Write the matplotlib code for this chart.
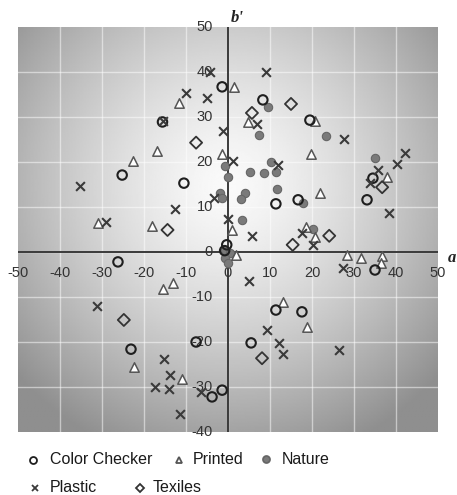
import numpy as np
import matplotlib.pyplot as plt
from matplotlib.transforms import offset_copy

# a'b' chromaticity of the sample sets
checker_a = [-1.4, 8.3, 19.5, -25.2, -10.5, 11.4, 16.7, 34.5, 33.1, 35.0, -26.2,
             -23.1, -7.6, 11.4, 17.6, 5.5, -1.4, -3.8, -15.6, -0.3, -0.8]
checker_b = [36.7, 33.8, 29.3, 17.1, 15.3, 10.7, 11.6, 16.4, 11.6, -4.0, -2.2,
             -21.6, -20.0, -12.9, -13.3, -20.2, -30.7, -32.2, 28.9, 1.6, 0.3]

printed_a = [1.4, -11.7, 4.8, 20.7, 19.8, -16.9, -22.6, -1.4, -31.0, -18.1, 21.9,
             1.0, 1.9, 18.6, 20.7, 37.9, 28.3, 31.7, 36.6, 36.4, 18.8, 13.1,
             -15.5, -13.1, -22.4, -11.0]
printed_b = [36.7, 33.1, 28.9, 29.1, 21.8, 22.4, 20.2, 21.8, 6.5, 5.8, 13.1,
             4.9, -0.7, 5.6, 3.3, 16.7, -0.7, -1.3, -0.9, -2.4, -16.7, -11.1,
             -8.2, -6.9, -25.5, -28.2]

nature_a = [9.5, 7.4, 23.3, 34.9, -0.6, 0.0, 5.2, 8.6, 10.2, 11.4, 11.7, 4.1,
            3.2, -1.9, -1.4, 3.3, 17.8, 20.2, -0.8, 0.5, -0.8, 0.0]
nature_b = [32.2, 26.0, 25.7, 20.8, 19.1, 16.7, 17.8, 17.6, 20.0, 17.8, 14.0, 13.2,
            11.8, 13.1, 12.0, 7.0, 10.9, 5.0, 0.5, -0.2, -1.4, -2.5]

plastic_a = [-4.3, 9.0, -10.0, -5.0, -15.4, -1.2, 6.9, 27.6, 42.1, 40.2, 35.7,
             33.8, 38.3, 1.2, 12.0, 0.0, 5.7, 17.6, 20.2, -3.4, -35.2, -29.0,
             -12.6, 5.0, 27.4, 9.4, 12.2, 13.0, 26.4, -6.5, -11.4, -31.2, -15.2,
             -13.8, -17.4, -14.0]
plastic_b = [40.0, 40.0, 35.3, 34.3, 29.2, 26.8, 28.4, 25.1, 22.0, 19.6, 18.2,
             15.3, 8.7, 20.3, 19.3, 7.3, 3.6, 4.2, 1.6, 12.0, 14.7, 6.7,
             9.6, -6.4, -3.6, -17.4, -20.3, -22.6, -21.8, -31.1, -35.9, -12.0, -23.8,
             -27.3, -30.0, -30.4]

textile_a = [15.0, 5.7, 36.7, 15.4, 24.1, -7.6, -14.4, 8.1, -24.8]
textile_b = [32.9, 30.9, 14.4, 1.6, 3.6, 24.3, 4.9, -23.6, -15.1]

x_ticks = [-50, -40, -30, -20, -10, 0, 10, 20, 30, 40, 50]
y_ticks = [50, 40, 30, 20, 10, 0, -10, -20, -30, -40]

fig = plt.figure(figsize=(4.57, 4.95), dpi=100)
ax = fig.add_axes([18 / 457, 1 - 432 / 495, 420 / 457, 405 / 495])
ax.set_xlim(-50, 50)
ax.set_ylim(-40, 50)

# grey radial shading, light in the middle, darker towards the corners
gx, gy = np.meshgrid(np.linspace(-1, 1, 300), np.linspace(-1, 1, 300))
r = np.sqrt((gx / 1.0) ** 2 + ((gy + 0.22) / 1.05) ** 2)
shade = 0.98 - 0.42 * np.clip(r / 1.35, 0, 1) ** 1.4
ax.imshow(shade, cmap='gray', vmin=0, vmax=1, extent=(-50, 50, -40, 50),
          origin='upper', aspect='auto', interpolation='bilinear', zorder=0)

for v in x_ticks[1:-1]:
    ax.axvline(v, color='white', lw=1, alpha=0.5, zorder=1)
for v in y_ticks[1:-1]:
    ax.axhline(v, color='white', lw=1, alpha=0.5, zorder=1)

ax.axhline(0, color='#3a3a3a', lw=1.4, zorder=2)
ax.axvline(0, color='#3a3a3a', lw=1.4, zorder=2)

for s in ax.spines.values():
    s.set_visible(False)
ax.set_xticks([])
ax.set_yticks([])

tick_font = dict(fontsize=10.5, color='#333333', family='Liberation Sans')
below = offset_copy(ax.transData, fig=fig, x=0, y=-21, units='dots')
left = offset_copy(ax.transData, fig=fig, x=-15, y=0, units='dots')
for v in x_ticks:
    ax.text(v, 0, str(v), transform=below, ha='center', va='center', zorder=3, **tick_font)
for v in y_ticks:
    ax.text(0, v, str(v), transform=left, ha='right', va='center', zorder=3, **tick_font)

ax.text(0, 50, "b'", transform=offset_copy(ax.transData, fig=fig, x=9, y=1, units='dots'),
        ha='center', va='bottom', fontsize=12, fontweight='bold', fontstyle='italic',
        family='Liberation Serif', color='#222222', clip_on=False)
ax.text(50, 0, 'a', transform=offset_copy(ax.transData, fig=fig, x=14, y=-6, units='dots'),
        ha='center', va='center', fontsize=12, fontweight='bold', fontstyle='italic',
        family='Liberation Serif', color='#222222', clip_on=False)

ax.scatter(nature_a, nature_b, s=36, marker='o', facecolor='#7a7a7a', edgecolor='#666666',
           lw=0.8, zorder=4)
ax.scatter(printed_a, printed_b, s=46, marker='^', facecolor='white', edgecolor='#555555',
           lw=1.1, zorder=5)
ax.scatter(textile_a, textile_b, s=38, marker='D', facecolor='none', edgecolor='#333333',
           lw=1.3, zorder=5)
ax.scatter(checker_a, checker_b, s=46, marker='o', facecolor='none', edgecolor='#1e1e1e',
           lw=1.5, zorder=6)
ax.scatter(plastic_a, plastic_b, s=40, marker='x', color='#3a3a3a', lw=1.5, zorder=6)

# legend laid out in two rows under the plot
legend_items = [
    ('Color Checker', 'o', 'none', '#1e1e1e', 33, 460, 50),
    ('Printed', '^', 'white', '#555555', 179, 460, 193),
    ('Nature', 'o', '#7a7a7a', '#666666', 266, 459, 282),
    ('Plastic', 'x', '#3a3a3a', '#3a3a3a', 35, 488, 50),
    ('Texiles', 'D', 'none', '#333333', 140, 488, 153),
]
for label, mk, fc, ec, mx, my, tx in legend_items:
    fig.lines.append(plt.Line2D([mx / 457], [1 - my / 495], transform=fig.transFigure,
                                marker=mk, ms=5 if mk != 'D' else 4.2, mfc=fc, mec=ec,
                                mew=1.3, ls='none'))
    fig.text(tx / 457, 1 - my / 495, label, ha='left', va='center', fontsize=11.5,
             family='Liberation Sans', color='#1a1a1a')

fig.savefig('out.png', dpi=100, facecolor='white')
